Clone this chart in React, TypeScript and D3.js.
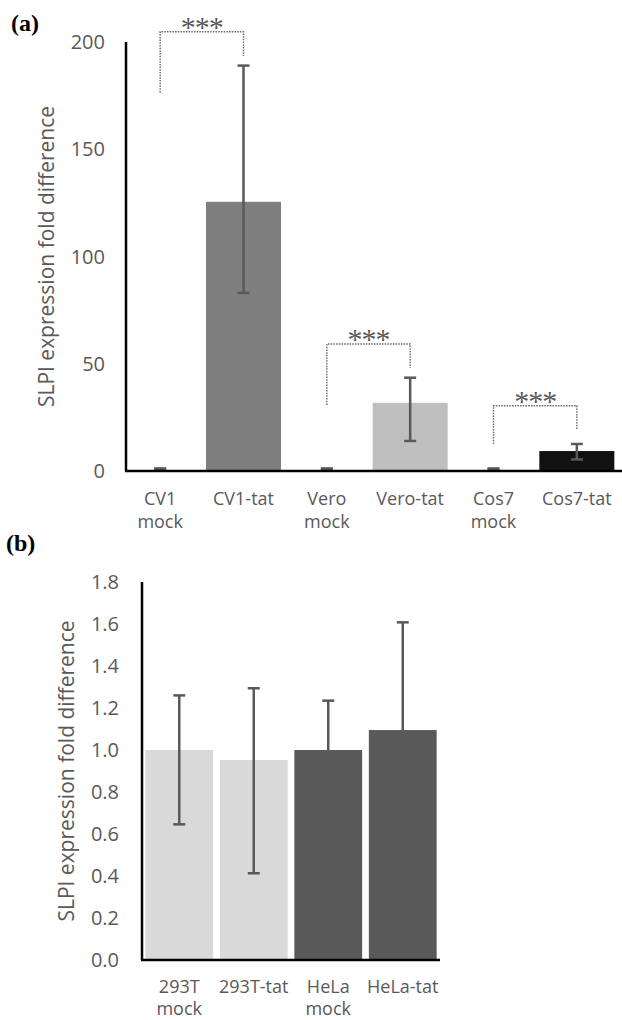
import React from 'react';
import * as d3 from 'd3';

// panel (a)
const catsA = ['CV1 mock', 'CV1-tat', 'Vero mock', 'Vero-tat', 'Cos7 mock', 'Cos7-tat'];
const meanA = [1, 125.5, 1, 31.8, 1, 9.3];
const lowA = [0.8, 83, 0.8, 14, 0.8, 5.4];
const highA = [1.2, 189, 1.2, 43.5, 1.2, 12.6];
const colorA = ['#ffffff', '#7f7f7f', '#ffffff', '#bfbfbf', '#ffffff', '#111111'];
const ticksA = [0, 50, 100, 150, 200];
// significance brackets: [left cat, right cat, top value, left leg end, right leg end]
const bracketsA: [string, string, number, number, number][] = [
  ['CV1 mock', 'CV1-tat', 204.8, 176.5, 193.5],
  ['Vero mock', 'Vero-tat', 59.2, 30.8, 48],
  ['Cos7 mock', 'Cos7-tat', 30.4, 12.6, 19.1],
];

// panel (b)
const catsB = ['293T mock', '293T-tat', 'HeLa mock', 'HeLa-tat'];
const meanB = [1.0, 0.952, 1.0, 1.095];
const lowB = [0.646, 0.413, 0.765, 0.58];
const highB = [1.26, 1.294, 1.235, 1.608];
const colorB = ['#d9d9d9', '#d9d9d9', '#595959', '#595959'];
const ticksB = [0, 0.2, 0.4, 0.6, 0.8, 1.0, 1.2, 1.4, 1.6, 1.8];

const FONT = "'Open Sans', sans-serif";
const SERIF = "'Liberation Serif', 'Times New Roman', serif";
const GREY = '#595959';

function App() {
  const xA = d3.scaleBand<string>().domain(catsA).range([118.5, 618.5]).paddingInner(0.1).paddingOuter(0.05);
  const yA = d3.scaleLinear().domain([0, 200]).range([471, 42]);
  const xB = d3.scaleBand<string>().domain(catsB).range([142, 440]).paddingInner(0.09).paddingOuter(0.045);
  const yB = d3.scaleLinear().domain([0, 1.8]).range([960, 582]);
  const fmtB = d3.format('.1f');
  const cap = 6;

  const cx = (x: d3.ScaleBand<string>, c: string) => (x(c) as number) + x.bandwidth() / 2;

  return (
    <svg width={622} height={1020} style={{ position: 'absolute', left: 0, top: 0, background: '#fff' }}>
      {/* ---------- (a) ---------- */}
      <text x={11} y={31} fontFamily={SERIF} fontWeight="bold" fontSize={24}>(a)</text>
      {catsA.map((c, i) => (
        <rect key={c} x={xA(c)} y={yA(meanA[i])} width={xA.bandwidth()} height={yA(0) - yA(meanA[i])} fill={colorA[i]} />
      ))}
      {catsA.map((c, i) => {
        const x = cx(xA, c);
        return (
          <g key={'e' + c} stroke={GREY} strokeWidth={2.5}>
            <line x1={x} x2={x} y1={yA(lowA[i])} y2={yA(highA[i])} />
            <line x1={x - cap} x2={x + cap} y1={yA(lowA[i])} y2={yA(lowA[i])} />
            <line x1={x - cap} x2={x + cap} y1={yA(highA[i])} y2={yA(highA[i])} />
          </g>
        );
      })}
      {bracketsA.map(([a, b, top, l, r]) => {
        const x1 = cx(xA, a);
        const x2 = cx(xA, b);
        const path = d3.path();
        path.moveTo(x1, yA(l));
        path.lineTo(x1, yA(top));
        path.lineTo(x2, yA(top));
        path.lineTo(x2, yA(r));
        return (
          <g key={'b' + a}>
            <path d={path.toString()} fill="none" stroke="#666" strokeWidth={1.4} strokeDasharray="1.5,1.2" />
            <text x={(x1 + x2) / 2} y={yA(top) + 5} textAnchor="middle" fontFamily={SERIF}
              fontSize={30} letterSpacing={-1} fill={GREY}>***</text>
          </g>
        );
      })}
      <line x1={126} x2={126} y1={yA(200)} y2={yA(0)} stroke="#000" strokeWidth={2.5} />
      <line x1={125} x2={622} y1={yA(0)} y2={yA(0)} stroke="#000" strokeWidth={2.5} />
      {ticksA.map(t => (
        <text key={t} x={105} y={yA(t) + 7} textAnchor="end" fontFamily={FONT} fontSize={20} fill={GREY}>{t}</text>
      ))}
      {catsA.map(c => (
        <text key={'l' + c} x={cx(xA, c)} textAnchor="middle" fontFamily={FONT} fontSize={18} fill={GREY}>
          {c.split(' ').map((s, j) => <tspan key={j} x={cx(xA, c)} y={505 + j * 23}>{s}</tspan>)}
        </text>
      ))}
      <text transform={`translate(54,${(yA(0) + yA(200)) / 2}) rotate(-90)`} textAnchor="middle"
        fontFamily={FONT} fontSize={21} fill={GREY}>SLPI expression fold difference</text>

      {/* ---------- (b) ---------- */}
      <text x={6} y={551} fontFamily={SERIF} fontWeight="bold" fontSize={24}>(b)</text>
      {catsB.map((c, i) => (
        <rect key={c} x={xB(c)} y={yB(meanB[i])} width={xB.bandwidth()} height={yB(0) - yB(meanB[i])} fill={colorB[i]} />
      ))}
      {catsB.map((c, i) => {
        const x = cx(xB, c);
        return (
          <g key={'e' + c} stroke={GREY} strokeWidth={2.5}>
            <line x1={x} x2={x} y1={yB(lowB[i])} y2={yB(highB[i])} />
            <line x1={x - cap} x2={x + cap} y1={yB(lowB[i])} y2={yB(lowB[i])} />
            <line x1={x - cap} x2={x + cap} y1={yB(highB[i])} y2={yB(highB[i])} />
          </g>
        );
      })}
      <line x1={142} x2={142} y1={yB(1.8)} y2={yB(0)} stroke="#000" strokeWidth={2.5} />
      <line x1={141} x2={440} y1={yB(0)} y2={yB(0)} stroke="#000" strokeWidth={2.5} />
      {ticksB.map(t => (
        <text key={t} x={119} y={yB(t) + 7} textAnchor="end" fontFamily={FONT} fontSize={20} fill={GREY}>{fmtB(t)}</text>
      ))}
      {catsB.map(c => (
        <text key={'l' + c} x={cx(xB, c)} textAnchor="middle" fontFamily={FONT} fontSize={18} fill={GREY}>
          {c.split(' ').map((s, j) => <tspan key={j} x={cx(xB, c)} y={993 + j * 22}>{s}</tspan>)}
        </text>
      ))}
      <text transform={`translate(74,${(yB(0) + yB(1.8)) / 2}) rotate(-90)`} textAnchor="middle"
        fontFamily={FONT} fontSize={21} fill={GREY}>SLPI expression fold difference</text>
    </svg>
  );
}

export default App;
